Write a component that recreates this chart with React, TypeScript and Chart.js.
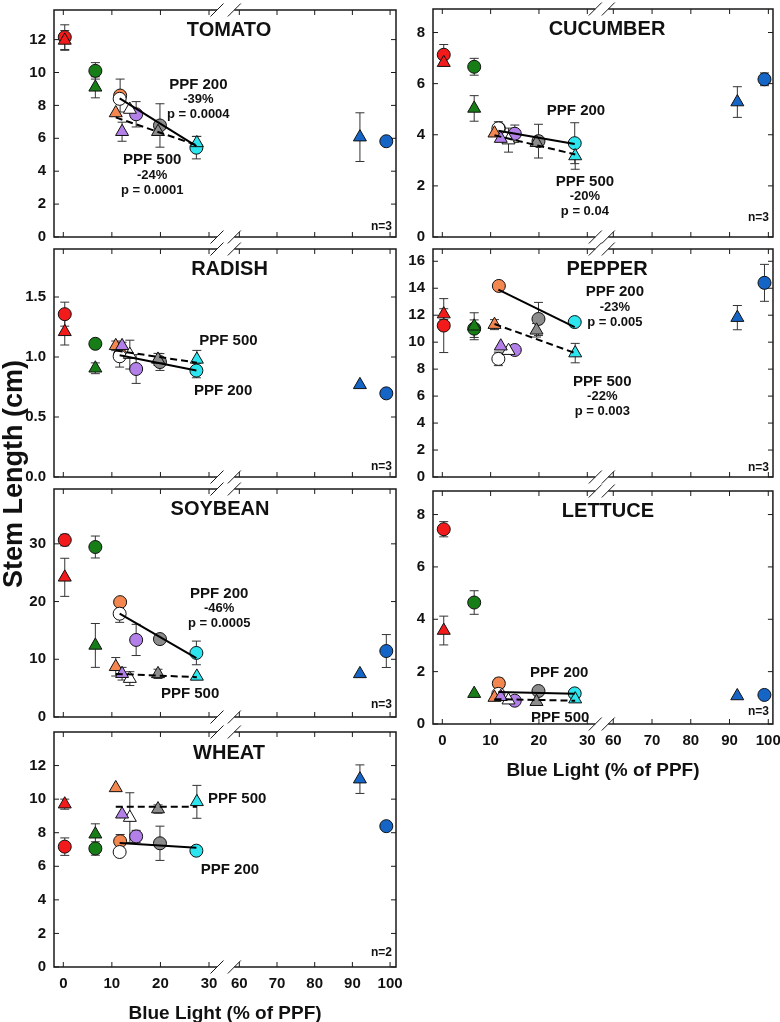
import React, { useEffect, useRef } from "react";
import { Chart, registerables } from "chart.js";

Chart.register(...registerables);

const FONT = "'Liberation Sans', Arial, Helvetica, sans-serif";
Chart.defaults.font.family = FONT;

// Treatments, in order: red, green, orange, white, purple, grey, cyan, blue
const treatmentColors = ["#f21a1a", "#177d17", "#f4874f", "#ffffff", "#b280e8", "#8c8c8c", "#2de5ef", "#1565c6"];

// Blue light (% of PPF) for each treatment
const blue200X = [0.3, 6.6, 11.7, 11.6, 15.0, 19.9, 27.4, 99];
const blue500X = [0.3, 6.6, 10.8, 13.7, 12.1, 19.5, 27.5, 92];
const fit200X = [11.6, 27.4];
const fit500X = [10.8, 27.5];
const xTickValues = [0, 10, 20, 30, 60, 70, 80, 90, 100];

// TOMATO
const tomato200 = [12.15, 10.1, 8.6, 8.4, 7.46, 6.78, 5.43, 5.82];
const tomato200Err = [0.75, 0.5, 1.0, 0, 0.77, 1.32, 0.68, 0.2];
const tomato500 = [11.95, 9.1, 7.54, 7.75, 6.4, 6.4, 5.72, 6.07];
const tomato500Err = [0.6, 0.64, 0, 0, 0.58, 0, 0.4, 1.48];
const tomatoFit200 = [8.43, 5.53];
const tomatoFit500 = [7.27, 5.58];
const tomatoYTicks = [0, 2, 4, 6, 8, 10, 12];

// RADISH
const radish200 = [1.357, 1.11, 1.02, 1.006, 0.9, 0.958, 0.887, 0.697];
const radish200Err = [0.1, 0, 0, 0.09, 0.12, 0.07, 0.06, 0];
const radish500 = [1.21, 0.906, 1.093, 1.02, 1.093, 0.98, 0.98, 0.768];
const radish500Err = [0.11, 0.045, 0.04, 0.12, 0.03, 0.05, 0.075, 0];
const radishFit200 = [1.014, 0.887];
const radishFit500 = [1.054, 0.953];
const radishYTicks = [0, 0.5, 1.0, 1.5];

// SOYBEAN
const soybean200 = [30.66, 29.45, 19.9, 17.9, 13.35, 13.5, 11.1, 11.43];
const soybean200Err = [1.0, 1.9, 0, 1.5, 2.7, 0, 2.05, 2.85];
const soybean500 = [24.2, 12.4, 8.7, 6.65, 7.5, 7.47, 7.03, 7.47];
const soybean500Err = [3.3, 3.8, 1.6, 1.2, 1.1, 0.8, 0, 0];
const soybeanFit200 = [17.9, 10.2];
const soybeanFit500 = [7.47, 6.9];
const soybeanYTicks = [0, 10, 20, 30];

// WHEAT
const wheat200 = [7.17, 7.06, 7.49, 6.85, 7.78, 7.37, 6.93, 8.39];
const wheat200Err = [0.52, 0.4, 0.4, 0, 0.36, 1.02, 0, 0];
const wheat500 = [9.7, 7.91, 10.67, 8.9, 9.1, 9.41, 9.84, 11.19];
const wheat500Err = [0.3, 0.62, 0, 1.48, 0, 0.25, 0.98, 0.85];
const wheatFit200 = [7.39, 7.1];
const wheatFit500 = [9.55, 9.55];
const wheatYTicks = [0, 2, 4, 6, 8, 10, 12];

// CUCUMBER
const cucumber200 = [7.13, 6.66, 4.25, 4.25, 4.04, 3.75, 3.67, 6.17];
const cucumber200Err = [0.4, 0.33, 0, 0.26, 0.34, 0.66, 0.8, 0.25];
const cucumber500 = [6.82, 5.03, 4.06, 3.79, 3.85, 3.69, 3.17, 5.28];
const cucumber500Err = [0, 0.5, 0, 0.47, 0, 0, 0.52, 0.6];
const cucumberFit200 = [4.16, 3.64];
const cucumberFit500 = [3.98, 3.23];
const cucumberYTicks = [0, 2, 4, 6, 8];

// PEPPER
const pepper200 = [11.23, 11.0, 14.17, 8.76, 9.42, 11.72, 11.49, 14.4];
const pepper200Err = [2.0, 0.65, 0, 0.5, 0, 1.23, 0, 1.37];
const pepper500 = [12.08, 11.18, 11.3, 9.37, 9.7, 10.88, 9.19, 11.82];
const pepper500Err = [0.4, 1.0, 0.37, 0, 0, 0.5, 0.72, 0.9];
const pepperFit200 = [13.89, 11.11];
const pepperFit500 = [11.35, 9.19];
const pepperYTicks = [0, 2, 4, 6, 8, 10, 12, 14, 16];

// LETTUCE
const lettuce200 = [7.44, 4.64, 1.55, 1.15, 0.89, 1.26, 1.17, 1.11];
const lettuce200Err = [0.29, 0.45, 0.2, 0, 0, 0, 0, 0];
const lettuce500 = [3.57, 1.16, 1.01, 0.91, 1.04, 0.85, 0.95, 1.07];
const lettuce500Err = [0.55, 0, 0, 0, 0, 0, 0, 0];
const lettuceFit200 = [1.22, 1.16];
const lettuceFit500 = [0.95, 0.89];
const lettuceYTicks = [0, 2, 4, 6, 8];

type Col = { d60: number; r: number; min: number; max: number };
const leftCol: Col = { d60: 36.24, r: 0.776, min: -1.915, max: 68.5 };
const rightCol: Col = { d60: 35.38, r: 0.802, min: -1.924, max: 68.42 };

function toDisplay(x: number, col: Col) {
  return x <= 30 ? x : col.d60 + (x - 60) * col.r;
}

type Note = { x: number; y: number; lines: string[] };
type Spec = {
  key: string; title: string; col: Col; plot: number[]; yMax: number; yTicks: number[]; dec: number;
  c: number[]; ce: number[]; t: number[]; te: number[]; f200: number[]; f500: number[];
  notes: Note[]; n: string; nDy: number; tDx: number; tDy: number; xLabels: boolean;
};

const panels: Spec[] = [
  { key: "tomato", title: "TOMATO", col: leftCol, plot: [54, 3, 396, 242], yMax: 13.8, yTicks: tomatoYTicks, dec: 0,
    c: tomato200, ce: tomato200Err, t: tomato500, te: tomato500Err, f200: tomatoFit200, f500: tomatoFit500,
    notes: [{ x: 27.8, y: 9.25, lines: ["PPF 200", "-39%", "p = 0.0004"] }, { x: 18.3, y: 4.67, lines: ["PPF 500", "-24%", "p = 0.0001"] }],
    n: "n=3", nDy: 10, tDx: 4, tDy: 20, xLabels: false },
  { key: "radish", title: "RADISH", col: leftCol, plot: [54, 242, 396, 482], yMax: 1.9, yTicks: radishYTicks, dec: 1,
    c: radish200, ce: radish200Err, t: radish500, te: radish500Err, f200: radishFit200, f500: radishFit500,
    notes: [{ x: 34.0, y: 1.133, lines: ["PPF 500"] }, { x: 32.9, y: 0.716, lines: ["PPF 200"] }],
    n: "n=3", nDy: 10, tDx: 4.5, tDy: 20, xLabels: false },
  { key: "soybean", title: "SOYBEAN", col: leftCol, plot: [54, 482, 396, 722], yMax: 39.5, yTicks: soybeanYTicks, dec: 0,
    c: soybean200, ce: soybean200Err, t: soybean500, te: soybean500Err, f200: soybeanFit200, f500: soybeanFit500,
    notes: [{ x: 32.1, y: 21.4, lines: ["PPF 200", "-46%", "p = 0.0005"] }, { x: 26.1, y: 4.07, lines: ["PPF 500"] }],
    n: "n=3", nDy: 12, tDx: -5, tDy: 20, xLabels: false },
  { key: "wheat", title: "WHEAT", col: leftCol, plot: [54, 725, 396, 967], yMax: 14, yTicks: wheatYTicks, dec: 0,
    c: wheat200, ce: wheat200Err, t: wheat500, te: wheat500Err, f200: wheatFit200, f500: wheatFit500,
    notes: [{ x: 35.8, y: 10.0, lines: ["PPF 500"] }, { x: 34.3, y: 5.79, lines: ["PPF 200"] }],
    n: "n=2", nDy: 14, tDx: 4, tDy: 21, xLabels: true },
  { key: "cucumber", title: "CUCUMBER", col: rightCol, plot: [433, 2, 773, 242], yMax: 8.92, yTicks: cucumberYTicks, dec: 0,
    c: cucumber200, ce: cucumber200Err, t: cucumber500, te: cucumber500Err, f200: cucumberFit200, f500: cucumberFit500,
    notes: [{ x: 27.66, y: 4.93, lines: ["PPF 200"] }, { x: 29.5, y: 2.155, lines: ["PPF 500", "-20%", "p = 0.04"] }],
    n: "n=3", nDy: 19, tDx: 4, tDy: 20, xLabels: false },
  { key: "pepper", title: "PEPPER", col: rightCol, plot: [433, 242, 773, 482], yMax: 16.91, yTicks: pepperYTicks, dec: 0,
    c: pepper200, ce: pepper200Err, t: pepper500, te: pepper500Err, f200: pepperFit200, f500: pepperFit500,
    notes: [{ x: 35.7, y: 13.7, lines: ["PPF 200", "-23%", "p = 0.005"] }, { x: 33.1, y: 7.07, lines: ["PPF 500", "-22%", "p = 0.003"] }],
    n: "n=3", nDy: 9, tDx: 4, tDy: 20, xLabels: false },
  { key: "lettuce", title: "LETTUCE", col: rightCol, plot: [433, 484, 773, 724], yMax: 8.9, yTicks: lettuceYTicks, dec: 0,
    c: lettuce200, ce: lettuce200Err, t: lettuce500, te: lettuce500Err, f200: lettuceFit200, f500: lettuceFit500,
    notes: [{ x: 24.2, y: 1.94, lines: ["PPF 200"] }, { x: 24.4, y: 0.25, lines: ["PPF 500"] }],
    n: "n=3", nDy: 12, tDx: 5, tDy: 20, xLabels: true },
];

const Y_W = 54;
const PAD_T = 10;
const PAD_R = 16;

function makePlugin(spec: Spec) {
  return {
    id: "panelDecor_" + spec.key,
    beforeDatasetsDraw(chart: any) {
      const { ctx } = chart;
      const xs = chart.scales.x;
      const ys = chart.scales.y;
      ctx.save();
      ctx.strokeStyle = "#333";
      ctx.lineWidth = 1;
      const drawBars = (X: number[], V: number[], E: number[]) => {
        for (let i = 0; i < V.length; i++) {
          if (!E[i]) continue;
          const px = xs.getPixelForValue(toDisplay(X[i], spec.col));
          const y1 = ys.getPixelForValue(V[i] + E[i]);
          const y2 = ys.getPixelForValue(V[i] - E[i]);
          ctx.beginPath();
          ctx.moveTo(px, y1); ctx.lineTo(px, y2);
          ctx.moveTo(px - 4.5, y1); ctx.lineTo(px + 4.5, y1);
          ctx.moveTo(px - 4.5, y2); ctx.lineTo(px + 4.5, y2);
          ctx.stroke();
        }
      };
      drawBars(blue200X, spec.c, spec.ce);
      drawBars(blue500X, spec.t, spec.te);
      ctx.restore();
    },
    afterDatasetsDraw(chart: any) {
      const { ctx, chartArea } = chart;
      const xs = chart.scales.x;
      const ys = chart.scales.y;
      const { left, right, top, bottom } = chartArea;
      ctx.save();
      // frame
      ctx.strokeStyle = "#1a1a1a";
      ctx.lineWidth = 1.5;
      ctx.strokeRect(left, top, right - left, bottom - top);
      // inward ticks
      ctx.lineWidth = 1;
      ctx.beginPath();
      xTickValues.forEach((v) => {
        const px = xs.getPixelForValue(toDisplay(v, spec.col));
        ctx.moveTo(px, bottom); ctx.lineTo(px, bottom - 5);
        ctx.moveTo(px, top); ctx.lineTo(px, top + 5);
      });
      spec.yTicks.forEach((v) => {
        const py = ys.getPixelForValue(v);
        ctx.moveTo(left, py); ctx.lineTo(left + 5, py);
        ctx.moveTo(right, py); ctx.lineTo(right - 5, py);
      });
      ctx.stroke();
      // axis breaks
      const b1 = xs.getPixelForValue(toDisplay(30, spec.col)) + 8;
      const b2 = xs.getPixelForValue(toDisplay(60, spec.col)) - 5;
      [top, bottom].forEach((yy) => {
        ctx.fillStyle = "#fff";
        ctx.fillRect(b1, yy - 1.5, b2 - b1, 3);
        ctx.strokeStyle = "#1a1a1a";
        ctx.lineWidth = 1;
        ctx.beginPath();
        [b1, b2].forEach((cx) => {
          ctx.moveTo(cx - 6.5, yy + 6.5);
          ctx.lineTo(cx + 6.5, yy - 6.5);
        });
        ctx.stroke();
      });
      // title
      ctx.fillStyle = "#111";
      ctx.textAlign = "center";
      ctx.textBaseline = "middle";
      ctx.font = `bold 20px ${FONT}`;
      ctx.fillText(spec.title, (left + right) / 2 + spec.tDx, top + spec.tDy);
      // notes
      spec.notes.forEach((note) => {
        const px = xs.getPixelForValue(note.x);
        const py = ys.getPixelForValue(note.y);
        note.lines.forEach((line, i) => {
          ctx.font = i === 0 ? `bold 15px ${FONT}` : `bold 13px ${FONT}`;
          ctx.fillText(line, px, py + i * 15);
        });
      });
      // n label
      ctx.textAlign = "right";
      ctx.font = `bold 12px ${FONT}`;
      ctx.fillText(spec.n, right - 4, bottom - spec.nDy);
      ctx.restore();
    },
  };
}

function Panel({ spec }: { spec: Spec }) {
  const ref = useRef<HTMLCanvasElement>(null);
  const [pl, pt, pr, pb] = spec.plot;
  const hx = spec.xLabels ? 58 : 12;
  const w = Y_W + (pr - pl) + PAD_R;
  const h = PAD_T + (pb - pt) + hx;

  useEffect(() => {
    const col = spec.col;
    const pts = (X: number[], V: number[]) => V.map((v, i) => ({ x: toDisplay(X[i], col), y: v }));
    const chart = new Chart(ref.current as HTMLCanvasElement, {
      type: "scatter",
      data: {
        datasets: [
          {
            label: "PPF 200 fit",
            data: fit200X.map((x, i) => ({ x, y: spec.f200[i] })),
            showLine: true, pointRadius: 0, borderColor: "#000", borderWidth: 2, order: 0, clip: false,
          } as any,
          {
            label: "PPF 500 fit",
            data: fit500X.map((x, i) => ({ x, y: spec.f500[i] })),
            showLine: true, pointRadius: 0, borderColor: "#000", borderWidth: 2, borderDash: [7, 4], order: 0, clip: false,
          } as any,
          {
            label: "PPF 500",
            data: pts(blue500X, spec.t),
            pointStyle: "triangle", pointRadius: 7.5, backgroundColor: treatmentColors,
            borderColor: "#111", borderWidth: 1, order: 1, clip: false,
          } as any,
          {
            label: "PPF 200",
            data: pts(blue200X, spec.c),
            pointStyle: "circle", pointRadius: 6.5, backgroundColor: treatmentColors,
            borderColor: "#111", borderWidth: 1, order: 2, clip: false,
          } as any,
        ],
      },
      options: {
        animation: false,
        responsive: false,
        events: [],
        layout: { padding: { top: PAD_T, right: PAD_R, left: 0, bottom: 0 } },
        plugins: { legend: { display: false }, tooltip: { enabled: false } },
        scales: {
          x: {
            type: "linear", min: col.min, max: col.max,
            afterBuildTicks: (s: any) => { s.ticks = xTickValues.map((v) => ({ value: toDisplay(v, col) })); },
            ticks: {
              display: spec.xLabels,
              callback: (_v: any, idx: number) => String(xTickValues[idx]),
              font: { size: 15, weight: "bold", family: FONT }, color: "#111", padding: 8,
              maxRotation: 0, autoSkip: false,
            },
            grid: { display: false, drawTicks: false }, border: { display: false },
            title: { display: spec.xLabels, text: "Blue Light (% of PPF)", font: { size: 19, weight: "bold", family: FONT }, color: "#111", padding: 0 },
            afterFit: (s: any) => { s.height = hx; },
          },
          y: {
            type: "linear", min: 0, max: spec.yMax,
            afterBuildTicks: (s: any) => { s.ticks = spec.yTicks.map((v) => ({ value: v })); },
            ticks: {
              callback: (v: any) => Number(v).toFixed(spec.dec),
              font: { size: 15, weight: "bold", family: FONT }, color: "#111", padding: 8,
            },
            grid: { display: false, drawTicks: false }, border: { display: false },
            afterFit: (s: any) => { s.width = Y_W; },
          },
        },
      } as any,
      plugins: [makePlugin(spec)],
    });
    return () => chart.destroy();
  }, []);

  return (
    <canvas
      ref={ref}
      width={w}
      height={h}
      style={{ position: "absolute", left: pl - Y_W, top: pt - PAD_T, width: w, height: h }}
    />
  );
}

export default function App() {
  return (
    <div style={{ position: "fixed", left: 0, top: 0, width: 780, height: 1022, overflow: "hidden", background: "#fff" }}>
      {panels.map((p) => (
        <Panel key={p.key} spec={p} />
      ))}
      <div
        style={{
          position: "absolute", left: 11.5 - 160, top: 474 - 14, width: 320, height: 28, lineHeight: "28px",
          textAlign: "center", transform: "rotate(-90deg)", font: `bold 27px ${FONT}`, color: "#111", whiteSpace: "nowrap",
        }}
      >
        Stem Length (cm)
      </div>
    </div>
  );
}
